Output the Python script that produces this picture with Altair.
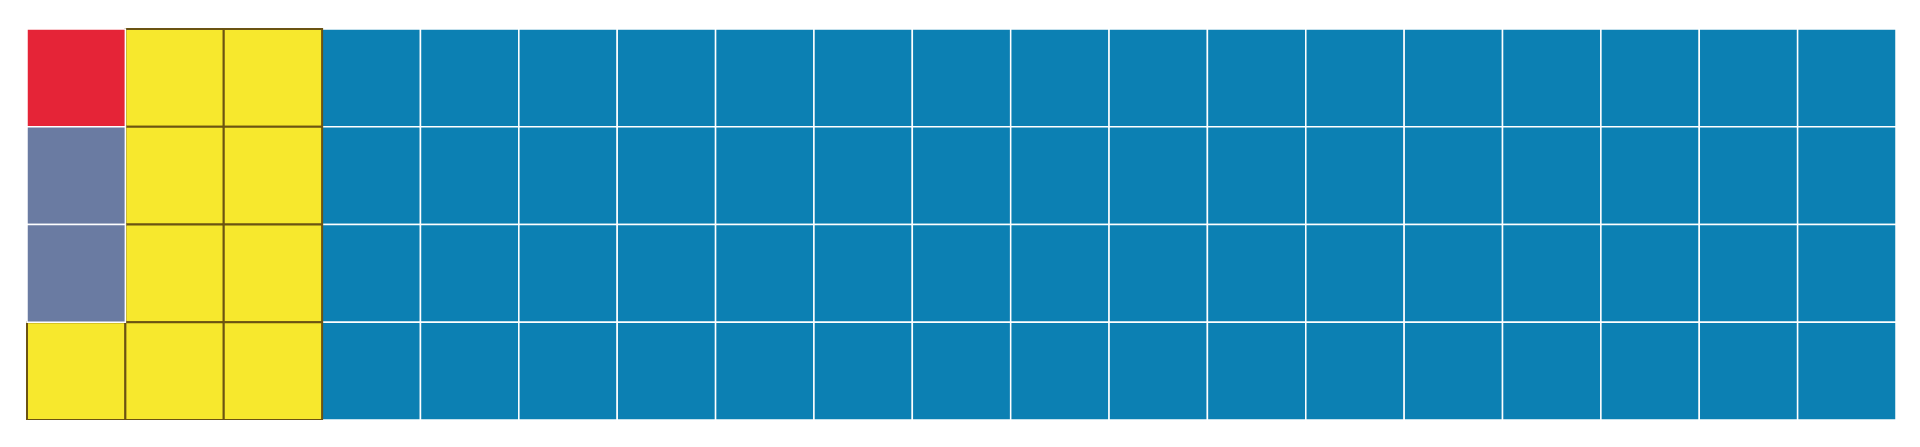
import altair as alt
import pandas as pd

categories = ["Red", "Gray", "Yellow", "Blue"]
counts = [1, 2, 9, 64]
colors = ["#E52437", "#6A7BA2", "#F7E82D", "#0C80B3"]
n_rows = 4
n_cols = 19

rows = []
idx = 0
for cat, n in zip(categories, counts):
    for _ in range(n):
        rows.append({"col": idx // n_rows, "row": idx % n_rows, "category": cat})
        idx += 1
df = pd.DataFrame(rows)

xs = alt.X("col:O", axis=None, scale=alt.Scale(paddingInner=0, paddingOuter=0))
ys = alt.Y("row:O", axis=None, scale=alt.Scale(paddingInner=0, paddingOuter=0))
color = alt.Color("category:N", legend=None,
                  scale=alt.Scale(domain=categories, range=colors))

blue = alt.Chart(df).mark_rect(stroke="white", strokeWidth=1.5).encode(
    x=xs, y=ys, color=color
).transform_filter(alt.datum.category == "Blue")

yellow = alt.Chart(df).mark_rect(stroke="#6B5312", strokeWidth=2).encode(
    x=xs, y=ys, color=color
).transform_filter(alt.datum.category == "Yellow")

others = alt.Chart(df).mark_rect(stroke="white", strokeWidth=1.5).encode(
    x=xs, y=ys, color=color
).transform_filter((alt.datum.category == "Red") | (alt.datum.category == "Gray"))

chart = alt.layer(blue, yellow, others).properties(
    width=1869, height=391,
    padding={"left": 19, "top": 21, "right": 0, "bottom": 0},
    autosize=alt.AutoSizeParams(type="none"),
).configure_view(stroke=None)

chart.save("out.html", embed_options={"renderer": "svg", "actions": False})
